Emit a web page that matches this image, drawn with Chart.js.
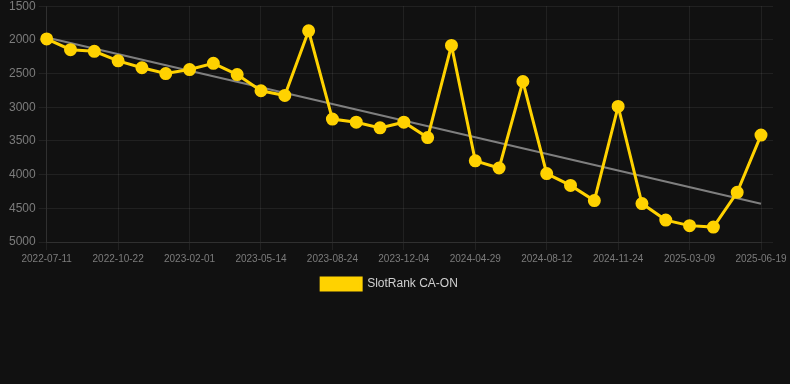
<!DOCTYPE html>
<html>
<head>
<meta charset="utf-8">
<script src="https://cdn.jsdelivr.net/npm/chart.js@4/dist/chart.umd.min.js"></script>
<style>
  html, body { margin: 0; padding: 0; background: #111111; width: 790px; height: 384px; overflow: hidden; }
  #wrap { position: absolute; left: 0; top: -4px; width: 790px; height: 304px; }
</style>
</head>
<body>
<div id="wrap"><canvas id="c"></canvas></div>
<script>
const categories = [
  '2022-07-11','2022-08-14','2022-09-17','2022-10-22','2022-11-25','2022-12-28',
  '2023-02-01','2023-03-07','2023-04-10','2023-05-14','2023-06-17','2023-07-21',
  '2023-08-24','2023-09-27','2023-10-31','2023-12-04','2024-01-22','2024-03-10',
  '2024-04-29','2024-06-02','2024-07-09','2024-08-12','2024-09-15','2024-10-20',
  '2024-11-24','2024-12-29','2025-02-02','2025-03-09','2025-04-12','2025-05-16',
  '2025-06-19'
];
const rankValues = [
  1985, 2145, 2170, 2311, 2414, 2500, 2440, 2348, 2515, 2755,
  2825, 1865, 3175, 3222, 3306, 3222, 3450, 2082, 3795, 3902,
  2618, 3985, 4160, 4385, 2987, 4430, 4675, 4757, 4779, 4262,
  3413
];
const trendStart = 1965;
const trendEnd = 4432;
const yTicks = [1500, 2000, 2500, 3000, 3500, 4000, 4500, 5000];
const seriesName = 'SlotRank CA-ON';

const trendValues = categories.map((_, i) => i === 0 ? trendStart : (i === categories.length - 1 ? trendEnd : null));

const gridColor = 'rgba(255,255,255,0.07)';
const tickColor = '#7c7c7c';
const fontFamily = '"Liberation Sans", Arial, Helvetica, sans-serif';

new Chart(document.getElementById('c'), {
  type: 'line',
  data: {
    labels: categories,
    datasets: [
      {
        label: seriesName,
        data: rankValues,
        borderColor: '#ffd200',
        backgroundColor: '#ffd200',
        borderWidth: 3,
        pointRadius: 5,
        pointHoverRadius: 5,
        pointBackgroundColor: '#ffd200',
        pointBorderColor: '#ffd200',
        tension: 0,
        order: 1
      },
      {
        label: 'trend',
        data: trendValues,
        borderColor: 'rgba(140,140,140,0.9)',
        borderWidth: 2,
        pointRadius: 0,
        spanGaps: true,
        fill: false,
        order: 2
      }
    ]
  },
  options: {
    responsive: true,
    maintainAspectRatio: false,
    animation: false,
    layout: { padding: { left: 6, top: 0, right: 17, bottom: 0 } },
    plugins: {
      legend: {
        position: 'bottom',
        labels: {
          color: '#d0d0d0',
          font: { family: fontFamily, size: 12 },
          boxWidth: 40,
          boxHeight: 12,
          padding: 10,
          filter: (item) => item.text === seriesName
        }
      },
      tooltip: { enabled: false }
    },
    scales: {
      x: {
        type: 'category',
        offset: false,
        grid: {
          color: (ctx) => (ctx.index % 3 === 0 ? gridColor : 'rgba(0,0,0,0)'),
          drawTicks: true,
          tickLength: 8
        },
        border: { color: gridColor },
        ticks: {
          autoSkip: false,
          maxRotation: 0,
          minRotation: 0,
          color: tickColor,
          font: { family: fontFamily, size: 10 },
          padding: 3,
          callback: function (value, index) {
            return index % 3 === 0 ? this.getLabelForValue(value) : '';
          }
        }
      },
      y: {
        reverse: true,
        min: yTicks[0],
        max: yTicks[yTicks.length - 1],
        afterBuildTicks: (axis) => { axis.ticks = yTicks.map(v => ({ value: v })); },
        grid: { color: gridColor, tickLength: 8 },
        border: { color: gridColor },
        ticks: {
          color: tickColor,
          font: { family: fontFamily, size: 12 },
          padding: 3,
          callback: (v) => String(v)
        }
      },
      y2: {
        position: 'right',
        reverse: true,
        min: yTicks[0],
        max: yTicks[yTicks.length - 1],
        afterBuildTicks: (axis) => { axis.ticks = yTicks.map(v => ({ value: v })); },
        grid: { color: gridColor, drawOnChartArea: false, drawTicks: true, tickLength: 12 },
        border: { display: false },
        ticks: { display: false }
      }
    }
  }
});
</script>
</body>
</html>
